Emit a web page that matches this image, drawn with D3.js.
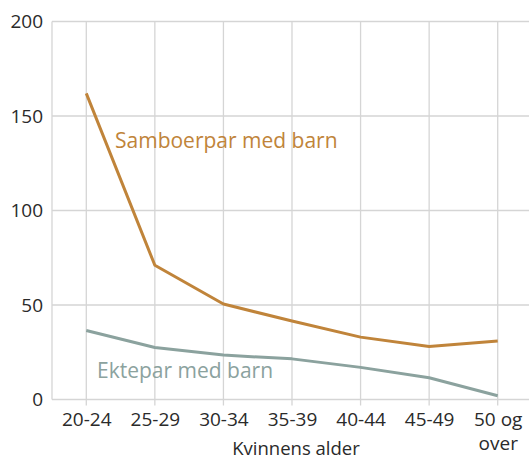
<!DOCTYPE html>
<html><head><meta charset="utf-8">
<script src="https://cdn.jsdelivr.net/npm/d3@7"></script>
<style>
html,body{margin:0;padding:0;background:#fff;}
svg{display:block;font-family:"Open Sans","Noto Sans",sans-serif;}
</style></head>
<body>
<svg id="c" width="529" height="460"></svg>
<script>
const categories = ["20-24","25-29","30-34","35-39","40-44","45-49","50 og over"];
const samboerpar = [162, 71, 50.5, 41.5, 33, 28, 31];
const ektepar = [36.5, 27.5, 23.5, 21.5, 17, 11.5, 2];
const yTicks = [0, 50, 100, 150, 200];
const seriesNames = ["Samboerpar med barn", "Ektepar med barn"];
const xTitle = "Kvinnens alder";

(function(){
const svg = d3.select("#c");
const pL = 52, pR = 532, pT = 21.5, pB = 399.5;
const x = d3.scalePoint().domain(categories).range([pL, pR]).padding(0.5);
const y = d3.scaleLinear().domain([0, 200]).range([pB, pT]);
const grid = "#d5d5d5", textCol = "#2a2a2a";
const cOrange = "#c0843a", cGray = "#8ba29e";

svg.append("g").selectAll("line").data(yTicks).join("line")
  .attr("x1", pL).attr("x2", 529).attr("y1", d => y(d)).attr("y2", d => y(d))
  .attr("stroke", grid).attr("stroke-width", 1.3);
svg.append("g").selectAll("line").data(categories).join("line")
  .attr("x1", d => x(d)).attr("x2", d => x(d)).attr("y1", pT).attr("y2", pB + 6)
  .attr("stroke", grid).attr("stroke-width", 1.3);
svg.append("line").attr("x1", pL).attr("x2", pL).attr("y1", pT).attr("y2", pB)
  .attr("stroke", grid).attr("stroke-width", 1.3);

const yAxis = d3.axisLeft(y).tickValues(yTicks).tickSize(0).tickPadding(9);
const yg = svg.append("g").attr("transform", `translate(${pL},0)`).call(yAxis);
yg.select(".domain").remove();
yg.selectAll("text").attr("font-size", 19).attr("fill", textCol).attr("font-family", "Open Sans");

const xAxis = d3.axisBottom(x).tickSize(0).tickPadding(8).tickFormat("");
const xg = svg.append("g").attr("transform", `translate(0,${pB})`).call(xAxis);
xg.select(".domain").remove();
xg.selectAll(".tick").each(function(d){
  const g = d3.select(this);
  const parts = d === "50 og over" ? ["50 og", "over"] : [d];
  parts.forEach((p, i) => {
    g.append("text").attr("y", 26 + i * 24).attr("text-anchor", "middle")
      .attr("font-size", 19).attr("fill", textCol).attr("font-family", "Open Sans").text(p);
  });
});
svg.append("text").attr("x", 296).attr("y", 455).attr("text-anchor", "middle")
  .attr("font-size", 18.5).attr("fill", textCol).text(xTitle);

const line = d3.line().x((d, i) => x(categories[i])).y(d => y(d));
svg.append("path").datum(ektepar).attr("d", line).attr("fill", "none")
  .attr("stroke", cGray).attr("stroke-width", 3).attr("stroke-linejoin", "round");
svg.append("path").datum(samboerpar).attr("d", line).attr("fill", "none")
  .attr("stroke", cOrange).attr("stroke-width", 3).attr("stroke-linejoin", "round");

svg.append("text").attr("x", 115).attr("y", 148).attr("font-size", 21)
  .attr("fill", cOrange).text(seriesNames[0]);
svg.append("text").attr("x", 97).attr("y", 378).attr("font-size", 21)
  .attr("fill", cGray).text(seriesNames[1]);
})();
</script>
</body></html>
